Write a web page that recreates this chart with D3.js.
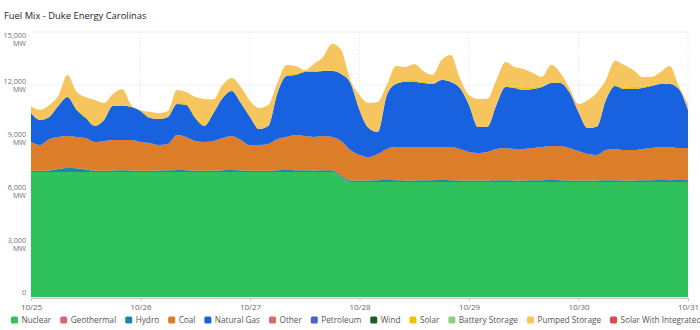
<!DOCTYPE html>
<html>
<head>
<meta charset="utf-8">
<script src="https://cdn.jsdelivr.net/npm/d3@7"></script>
<style>
  html, body { margin: 0; padding: 0; background: #fff; }
  svg { display: block; font-family: "Open Sans", "Noto Sans", sans-serif; }
</style>
</head>
<body>
<svg id="chart" width="700" height="330"></svg>
<script>
// Generation by fuel, MW, sampled every 2 hours from 10/25 00:00
const startTime = new Date(2023, 9, 25, 0, 0);
const stepHours = 2;

const nuclear = [
  7070,7070,7070,7070,7070,7070,7070,7070,7070,7070,7070,7070,
  7070,7070,7070,7070,7070,7070,7070,7070,7070,7070,7070,7070,
  7070,7070,7070,7070,7070,7070,7070,7070,7070,7070,6750,6510,
  6510,6510,6510,6510,6510,6510,6510,6510,6510,6510,6510,6510,
  6510,6510,6510,6510,6510,6510,6510,6510,6510,6510,6510,6510,
  6510,6510,6510,6510,6510,6510,6510,6510,6510,6510,6510,6510,
  6510
];
const hydro = [
  80,70,90,180,230,220,150,90,80,90,100,90,
  80,80,90,100,120,110,90,80,90,110,120,100,
  80,70,80,110,120,110,100,90,100,110,100,90,
  80,90,100,110,100,90,90,100,100,110,100,90,
  80,80,90,100,100,90,90,100,100,110,100,90,
  80,80,90,100,100,90,90,100,100,110,100,110,
  100
];
const coal = [
  1620,1460,1780,1810,1810,1770,1780,1610,1680,1730,1720,1730,
  1620,1570,1440,1490,1980,1880,1670,1620,1670,1820,1920,1720,
  1450,1460,1510,1760,1870,1990,1940,1900,1940,1880,1980,1720,
  1450,1320,1480,1760,1880,1890,1890,1880,1880,1870,1880,1780,
  1620,1560,1610,1770,1820,1780,1780,1820,1880,1930,1940,1830,
  1670,1500,1440,1710,1770,1720,1720,1770,1820,1870,1880,1810,
  1820
];
const naturalGas = [
  1640,1420,1250,1760,2210,1530,1130,910,1190,1930,1930,1870,
  1760,1420,1470,1530,1760,1810,1300,910,1580,2260,2550,2090,
  1590,910,1020,2600,3450,3400,3620,3680,3680,3740,3790,3790,
  2550,1640,1250,3060,3570,3680,3680,3620,3570,3790,3680,3450,
  2660,1470,1420,2490,3450,3450,3340,3340,3400,3570,3570,3170,
  2210,1470,1590,2830,3570,3450,3450,3450,3510,3570,3570,3340,
  2150
];
const solar = [
  0,0,0,0,50,90,110,90,50,0,0,0,
  0,0,0,0,50,90,110,90,50,0,0,0,
  0,0,0,0,50,90,60,90,50,0,0,0,
  0,0,0,0,50,90,110,90,50,0,0,0,
  0,0,0,0,50,90,110,90,50,0,0,0,
  0,0,0,0,50,90,110,90,50,0,0,0,
  0
];
const pumpedStorage = [
  400,570,680,570,1200,930,1080,1380,910,680,960,100,
  60,340,340,340,740,650,1080,1440,740,740,740,910,
  910,1190,1190,570,570,420,50,360,740,1530,1360,170,
  850,1420,1700,570,970,760,910,590,460,1130,1530,570,
  570,1590,1590,1420,1370,1100,1080,820,520,1020,570,230,
  450,1590,1920,1130,1370,1270,970,530,460,680,1020,170,
  340
];

const yTicks = [0, 3000, 6000, 9000, 12000, 15000];
const dayTicks = ["10/25", "10/26", "10/27", "10/28", "10/29", "10/30", "10/31"];

const legendItems = [
  { name: "Nuclear", color: "#2fc15c" },
  { name: "Geothermal", color: "#d9686a" },
  { name: "Hydro", color: "#1b87ab" },
  { name: "Coal", color: "#dc7d2a" },
  { name: "Natural Gas", color: "#1862df" },
  { name: "Other", color: "#d46d6d" },
  { name: "Petroleum", color: "#4a62c4" },
  { name: "Wind", color: "#1d5e22" },
  { name: "Solar", color: "#f2c200" },
  { name: "Battery Storage", color: "#8fcf7f" },
  { name: "Pumped Storage", color: "#f6c55d" },
  { name: "Solar With Integrated Battery Storage", color: "#e04549" }
];

const seriesValues = {
  "Nuclear": nuclear,
  "Hydro": hydro,
  "Coal": coal,
  "Natural Gas": naturalGas,
  "Solar": solar,
  "Pumped Storage": pumpedStorage
};
const keys = Object.keys(seriesValues);
const colorOf = Object.fromEntries(legendItems.map(d => [d.name, d.color]));

const rows = nuclear.map((_, i) => {
  const r = { time: new Date(startTime.getTime() + i * stepHours * 3600e3) };
  keys.forEach(k => { r[k] = seriesValues[k][i]; });
  return r;
});

const svg = d3.select("#chart");
const margin = { left: 31, right: 12, top: 32, bottom: 33 };
const W = 700, H = 330;

const x = d3.scaleTime()
  .domain([startTime, new Date(2023, 9, 31, 0, 0)])
  .range([margin.left, W - margin.right]);
const y = d3.scaleLinear()
  .domain([0, 15000])
  .range([H - margin.bottom, margin.top]);

// Title
svg.append("text")
  .attr("x", 4).attr("y", 19)
  .attr("font-size", 9.4)
  .attr("fill", "#252423")
  .text("Fuel Mix - Duke Energy Carolinas");

// Gridlines
const grid = svg.append("g");
grid.selectAll("line.h").data(yTicks.slice(1)).join("line")
  .attr("x1", margin.left).attr("x2", W - margin.right)
  .attr("y1", d => y(d)).attr("y2", d => y(d))
  .attr("stroke", "#f0f0f0").attr("stroke-width", 1);
const dayDates = dayTicks.map((_, i) => d3.timeDay.offset(startTime, i));
grid.selectAll("line.v").data(dayDates.slice(1)).join("line")
  .attr("x1", d => x(d)).attr("x2", d => x(d))
  .attr("y1", margin.top).attr("y2", H - margin.bottom)
  .attr("stroke", "#e2e2e2").attr("stroke-dasharray", "1,2");

// Stacked areas
const stack = d3.stack().keys(keys);
const layers = stack(rows);
const area = d3.area()
  .x(d => x(d.data.time))
  .y0(d => y(d[0]))
  .y1(d => y(d[1]))
  .curve(d3.curveMonotoneX);

svg.append("g").selectAll("path").data(layers).join("path")
  .attr("d", area)
  .attr("fill", d => colorOf[d.key]);

// X axis
const xAxis = d3.axisBottom(x)
  .tickValues(dayDates)
  .tickFormat((d, i) => dayTicks[i])
  .tickSize(3);
const gx = svg.append("g")
  .attr("transform", `translate(0,${H - margin.bottom + 1})`)
  .call(xAxis);
gx.select(".domain").attr("stroke", "#c4c4c4");
gx.selectAll(".tick line").attr("stroke", "#c4c4c4");
gx.selectAll(".tick text")
  .attr("fill", "#666").attr("font-size", 8)
  .attr("font-family", "\"Open Sans\", sans-serif")
  .attr("dy", "0.75em");

// Y axis labels: value with the unit on a second line
const yl = svg.append("g")
  .attr("font-size", 7.2).attr("fill", "#707070").attr("text-anchor", "end");
yTicks.forEach(v => {
  const label = d3.format(",")(v);
  if (v === 0) {
    yl.append("text").attr("x", 26).attr("y", y(v) - 2).text(label);
  } else {
    const cy = Math.max(y(v), margin.top + 7);
    const t = yl.append("text").attr("x", 26).attr("y", cy - 1.5);
    t.append("tspan").attr("x", 26).text(label);
    t.append("tspan").attr("x", 26).attr("dy", 8.6).text("MW");
  }
});

// Legend
const legend = svg.append("g");
const legendY = 320;
let lx = 11;
const fs = 8.2;
legendItems.forEach(item => {
  const g = legend.append("g");
  g.append("rect")
    .attr("x", lx).attr("y", legendY - 3.5)
    .attr("width", 7).attr("height", 7).attr("rx", 1.5)
    .attr("fill", item.color);
  const t = g.append("text")
    .attr("x", lx + 10.5).attr("y", legendY + 3)
    .attr("font-size", fs).attr("fill", "#555")
    .text(item.name);
  lx += 10.5 + t.node().getComputedTextLength() + 9;
});
</script>
</body>
</html>
